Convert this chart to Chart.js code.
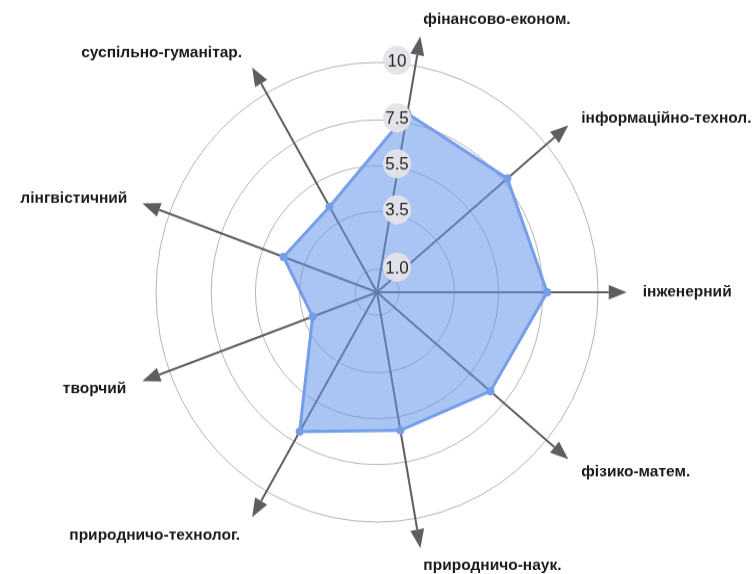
<!DOCTYPE html>
<html>
<head>
<meta charset="utf-8">
<script src="https://cdn.jsdelivr.net/npm/chart.js@4"></script>
<style>
  html, body { margin: 0; padding: 0; background: #fff; height: 574px; overflow: hidden; }
  /* the reference is slightly stretched vertically */
  #wrap { width: 754px; height: 552px; transform: scaleY(1.04); transform-origin: 0 0; }
</style>
</head>
<body>
<div id="wrap"><canvas id="radarChart"></canvas></div>
<script>
const categories = ['фінансово-економ.', 'інформаційно-технол.', 'інженерний', 'фізико-матем.',
    'природничо-наук.', 'природничо-технолог.', 'творчий', 'лінгвістичний', 'суспільно-гуманітар.'];
const scores = [7.9, 7.7, 7.7, 6.7, 6.1, 7.0, 3.1, 4.5, 4.3];
const tickValues = [0, 1, 3.5, 5.5, 7.5, 10];
const tickLabels = ['', '1.0', '3.5', '5.5', '7.5', '10'];

// label placement relative to arrow tips (dx, dy)
const labelOffsets = [[3, -16], [13, -7], [16, 0], [13, 12], [3, 17], [-12, 17], [-16, 7], [-15, -5], [-10, -14]];
const arrowValue = 11.3; // arrows run a bit past the outer ring

function drawArrow(ctx, x0, y0, x1, y1) {
    const a = Math.atan2(y1 - y0, x1 - x0);
    const head = 18, half = 7;
    const bx = x1 - head * Math.cos(a), by = y1 - head * Math.sin(a);
    ctx.beginPath();
    ctx.moveTo(x0, y0);
    ctx.lineTo(bx, by);
    ctx.stroke();
    ctx.beginPath();
    ctx.moveTo(x1, y1);
    ctx.lineTo(bx + half * Math.sin(a), by - half * Math.cos(a));
    ctx.lineTo(bx - half * Math.sin(a), by + half * Math.cos(a));
    ctx.closePath();
    ctx.fill();
}

const arrowsPlugin = {
    id: 'arrows',
    beforeDatasetsDraw(chart) {
        const scale = chart.scales.r;
        const ctx = chart.ctx;
        const dist = scale.getDistanceFromCenterForValue(arrowValue);
        ctx.save();
        ctx.strokeStyle = '#5e5e5e';
        ctx.fillStyle = '#5e5e5e';
        ctx.lineWidth = 2;
        categories.forEach((c, i) => {
            const p = scale.getPointPosition(i, dist);
            drawArrow(ctx, scale.xCenter, scale.yCenter, p.x, p.y);
        });
        ctx.restore();
    },
    afterDraw(chart) {
        const scale = chart.scales.r;
        const ctx = chart.ctx;
        ctx.save();
        // tick labels with round backdrops
        ctx.textAlign = 'center';
        ctx.textBaseline = 'middle';
        ctx.font = '17px "Liberation Sans", Arial, sans-serif';
        tickValues.forEach((v, i) => {
            if (!tickLabels[i]) return;
            const r = scale.getDistanceFromCenterForValue(v);
            const x = scale.xCenter + 20;
            const y = scale.yCenter - r - 2;
            ctx.fillStyle = 'rgba(228,228,232,0.95)';
            ctx.beginPath();
            ctx.arc(x, y, 14, 0, Math.PI * 2);
            ctx.fill();
            ctx.fillStyle = '#262626';
            ctx.fillText(tickLabels[i], x, y + 1);
        });
        // category labels next to arrow tips
        const dist = scale.getDistanceFromCenterForValue(arrowValue);
        ctx.font = 'bold 15.5px "Liberation Sans", Arial, sans-serif';
        ctx.fillStyle = '#1a1a1a';
        categories.forEach((c, i) => {
            const p = scale.getPointPosition(i, dist);
            ctx.textAlign = p.x > scale.xCenter + 5 ? 'left' : (p.x < scale.xCenter - 5 ? 'right' : 'center');
            ctx.fillText(c, p.x + labelOffsets[i][0], p.y + labelOffsets[i][1]);
        });
        ctx.restore();
    }
};

const ctx = document.getElementById('radarChart').getContext('2d');
const chart = new Chart(ctx, {
    type: 'radar',
    data: {
        labels: categories,
        datasets: [{
            data: scores,
            fill: true,
            backgroundColor: 'rgba(100, 150, 235, 0.55)',
            borderColor: 'rgb(118, 158, 232)',
            borderWidth: 3,
            pointRadius: 4,
            pointBorderWidth: 0,
            pointBackgroundColor: 'rgb(118, 158, 232)',
            tension: 0
        }]
    },
    options: {
        responsive: true,
        maintainAspectRatio: false,
        animation: false,
        layout: { padding: { top: 60, bottom: 49, left: 155, right: 155 } },
        plugins: { legend: { display: false }, tooltip: { enabled: false } },
        scales: {
            r: {
                min: 0,
                max: 10,
                startAngle: 10,
                afterBuildTicks: (scale) => {
                    scale.ticks = tickValues.map(v => ({ value: v }));
                },
                ticks: { display: false },
                pointLabels: { display: false },
                angleLines: { display: false },
                grid: { circular: true, color: '#b4b4b4', lineWidth: 1 }
            }
        }
    },
    plugins: [arrowsPlugin]
});
</script>
</body>
</html>
